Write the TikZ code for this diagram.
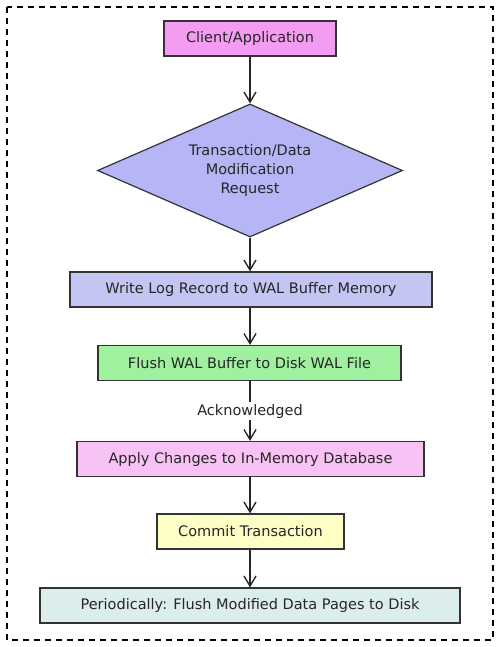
\documentclass[tikz,border=0pt]{standalone}
\usepackage{fontspec}
\setmainfont{DejaVu Sans}
\usetikzlibrary{arrows.meta,shapes.geometric}
\definecolor{cClient}{HTML}{F49CF1}
\definecolor{cDiam}{HTML}{B6B6F7}
\definecolor{cWrite}{HTML}{C5C5F3}
\definecolor{cFlush}{HTML}{A0F0A0}
\definecolor{cApply}{HTML}{F8C2F4}
\definecolor{cCommit}{HTML}{FDFDC6}
\definecolor{cPeriod}{HTML}{DCEEEB}
\definecolor{cLine}{HTML}{333333}
\tikzset{
  x=1pt,y=-1pt,
  txt/.style={font=\fontsize{14.5}{19}\selectfont,text=black!85},
  box/.style={txt,draw=cLine,line width=1.2pt,minimum height=35pt,inner sep=0pt},
  conn/.style={draw=black!85,line width=1.4pt,-{Straight Barb[length=10pt,width=12pt,line width=1.4pt]}},
}
\begin{document}
\begin{tikzpicture}
\useasboundingbox (0,0) rectangle (500,647);
\draw[line width=1.3pt,dash pattern=on 6pt off 5pt] (7,7) rectangle (493,640);
\node[box,fill=cClient,minimum width=172pt] (client) at (250,38.5) {Client/Application};
\node[txt,draw=cLine,line width=1.2pt,fill=cDiam,diamond,aspect=2.3,minimum width=305pt,minimum height=133pt,inner sep=0pt,align=center] (req) at (250,170.5) {Transaction/Data\\Modification\\Request};
\node[box,fill=cWrite,minimum width=362pt] (write) at (251,289.5) {Write Log Record to WAL Buffer Memory};
\node[box,fill=cFlush,minimum width=303pt] (flush) at (249.5,363) {Flush WAL Buffer to Disk WAL File};
\node[box,fill=cApply,minimum width=347pt] (apply) at (250.5,459) {Apply Changes to In-Memory Database};
\node[box,fill=cCommit,minimum width=187pt] (commit) at (250.5,531.5) {Commit Transaction};
\node[box,fill=cPeriod,minimum width=420pt] (period) at (250,605.5) {Periodically: Flush Modified Data Pages to Disk};
\draw[conn] (client) -- (client.south |- req.north);
\draw[conn] (req.south) -- (req.south |- write.north);
\draw[conn] (req.south |- write.south) -- (req.south |- flush.north);
\draw[conn] (req.south |- flush.south) -- node[txt,fill=white,inner sep=2pt] {Acknowledged} (req.south |- apply.north);
\draw[conn] (req.south |- apply.south) -- (req.south |- commit.north);
\draw[conn] (req.south |- commit.south) -- (req.south |- period.north);
\end{tikzpicture}
\end{document}
